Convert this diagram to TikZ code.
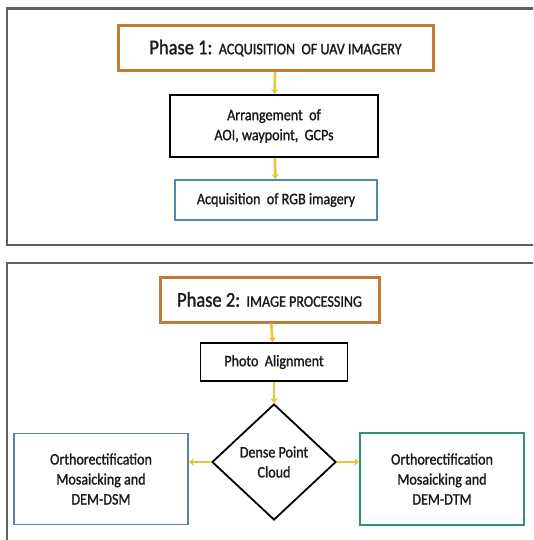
\documentclass[tikz,border=0pt]{standalone}
\usepackage{fontspec}
\setmainfont{Carlito}[FakeStretch=0.88, FakeBold=1.3]
\usetikzlibrary{shapes.geometric,arrows.meta}
\definecolor{frame}{HTML}{5A6068}
\definecolor{phaseorange}{HTML}{C47A35}
\definecolor{arrowyellow}{HTML}{E8C634}
\definecolor{rgbblue}{HTML}{4E8CA8}
\definecolor{dsmblue}{HTML}{5E7FB0}
\definecolor{dtmgreen}{HTML}{2F9270}
\definecolor{txt}{HTML}{1A1A1A}
\tikzset{
  box/.style={draw, line width=1.8pt, fill=white, align=center, inner sep=2pt, text=txt, font=\fontsize{16}{20}\selectfont},
  phasebox/.style={box, draw=phaseorange, line width=3pt},
  conn/.style={draw=arrowyellow, line width=2.6pt, -{Stealth[length=5pt,width=7.5pt]}},
  outer/.style={draw=frame, line width=2.2pt}
}
\begin{document}
\begin{tikzpicture}[x=1pt,y=-1pt]
\useasboundingbox (0,0) rectangle (533,540);
\begin{scope}
\clip (0,0) rectangle (533,540);
\draw[outer] (7,8.5) rectangle (545,245);
\draw[outer] (7,263) rectangle (545,580);
\end{scope}
\node[phasebox, minimum width=315pt, minimum height=45pt] (p1) at (275.5,48)
  {{\fontsize{21}{24}\selectfont Phase 1:}\ \ {\fontsize{16}{19}\selectfont ACQUISITION\ \ OF UAV IMAGERY}};
\node[box, draw=black, minimum width=208pt, minimum height=62pt] (arr) at (274,126)
  {Arrangement\ \ of\\ AOI, waypoint,\ \ GCPs};
\node[box, draw=rgbblue, line width=2pt, minimum width=202pt, minimum height=40pt] (rgb) at (276,200)
  {Acquisition\ \ of RGB imagery};
\node[phasebox, minimum width=219pt, minimum height=45pt] (p2) at (269.5,299.5)
  {{\fontsize{21}{24}\selectfont Phase 2:}\ \ {\fontsize{16}{19}\selectfont IMAGE PROCESSING}};
\node[box, draw=black, minimum width=147pt, minimum height=38pt] (photo) at (274,362)
  {Photo\ \ Alignment};
\node[box, draw=black, diamond, inner sep=0pt, minimum width=124pt, minimum height=116pt] (dpc) at (274,462)
  {Dense Point\\Cloud};
\node[box, draw=dsmblue, minimum width=174pt, minimum height=91pt] (dsm) at (101,479)
  {Orthorectification\\Mosaicking and\\DEM-DSM};
\node[box, draw=dtmgreen, minimum width=164pt, minimum height=92pt] (dtm) at (442,479)
  {Orthorectification\\Mosaicking and\\DEM-DTM};
\draw[conn] (p1) -- (arr);
\draw[conn] (arr) -- (rgb);
\draw[conn] (p2) -- (photo);
\draw[conn] (photo) -- (dpc);
\draw[conn] (dpc.west) -- (dsm.east |- dpc.west);
\draw[conn] (dpc.east) -- (dtm.west |- dpc.east);
\end{tikzpicture}
\end{document}
